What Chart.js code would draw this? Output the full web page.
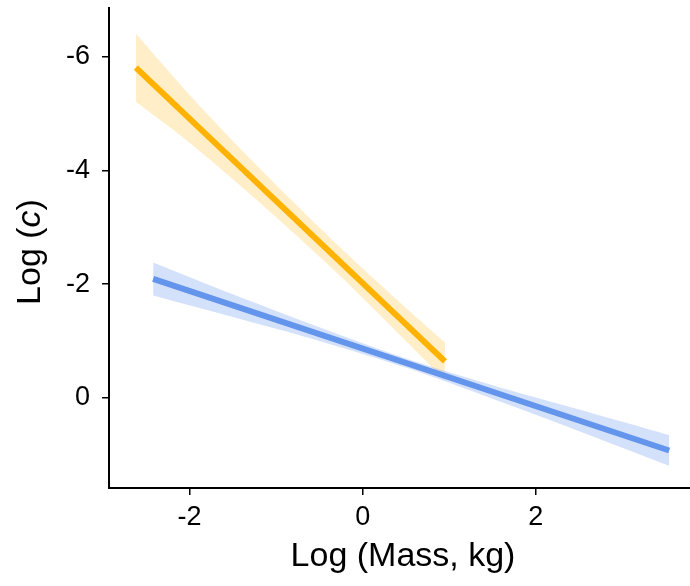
<!DOCTYPE html>
<html>
<head>
<meta charset="utf-8">
<script src="https://cdn.jsdelivr.net/npm/chart.js@4.4.0/dist/chart.umd.min.js"></script>
<style>
  html, body { margin: 0; padding: 0; background: #fff; }
  #wrap { width: 690px; height: 586px; }
</style>
</head>
<body>
<div id="wrap"><canvas id="myChart" width="690" height="586"></canvas></div>
<script>
// values
const xTicks = [-2, 0, 2];
const yTicks = [-6, -4, -2, 0];

// orange fit + band
const orangeLineX = [-2.62, 0.95];
const orangeLineY = [-5.81, -0.64];
const orangeBandX = [-2.62, -2, -1.2, -0.3, 0.5, 0.95];
const orangeBandTop = [-6.41, -5.33, -4.05, -2.70, -1.58, -0.97];
const orangeBandBottom = [-5.21, -4.49, -3.45, -2.20, -1.00, -0.31];

// blue fit + band
const blueLineX = [-2.42, 3.54];
const blueLineY = [-2.09, 0.93];
const blueBandX = [-2.42, -1.5, -0.5, 0.5, 1.5, 2.5, 3.54];
const blueBandTop = [-2.38, -1.82, -1.24, -0.69, -0.22, 0.21, 0.66];
const blueBandBottom = [-1.80, -1.42, -1.00, -0.53, 0.02, 0.59, 1.20];

const orange = 'rgb(255,178,0)';
const orangeFill = 'rgba(255,178,0,0.22)';
const blue = 'rgb(100,149,237)';
const blueFill = 'rgba(100,149,237,0.28)';

function pts(xs, ys) {
  return xs.map((x, i) => ({ x: x, y: ys[i] }));
}

const fontFam = '"Liberation Sans", Arial, sans-serif';

// axis titles drawn by hand so the c can be italic
const titles = {
  id: 'titles',
  afterDraw(chart) {
    const ctx = chart.ctx;
    ctx.save();
    ctx.fillStyle = '#000';
    ctx.textBaseline = 'middle';
    ctx.textAlign = 'center';
    ctx.font = '34px ' + fontFam;
    ctx.fillText('Log (Mass, kg)', 403, 557);

    ctx.translate(31, 252);
    ctx.rotate(-Math.PI / 2);
    const a = 'Log (', b = 'c', c = ')';
    ctx.font = '34px ' + fontFam;
    const wa = ctx.measureText(a).width, wc = ctx.measureText(c).width;
    ctx.font = 'italic 34px ' + fontFam;
    const wb = ctx.measureText(b).width;
    let x = -(wa + wb + wc) / 2;
    ctx.textAlign = 'left';
    ctx.font = '34px ' + fontFam;
    ctx.fillText(a, x, 0); x += wa;
    ctx.font = 'italic 34px ' + fontFam;
    ctx.fillText(b, x, 0); x += wb;
    ctx.font = '34px ' + fontFam;
    ctx.fillText(c, x, 0);
    ctx.restore();
  }
};

const config = {
  type: 'scatter',
  data: {
    datasets: [
      { data: pts(orangeBandX, orangeBandBottom), showLine: true, borderWidth: 0, borderColor: 'rgba(0,0,0,0)', pointRadius: 0, tension: 0.3, order: 4 },
      { data: pts(orangeBandX, orangeBandTop), showLine: true, borderWidth: 0, borderColor: 'rgba(0,0,0,0)', pointRadius: 0, tension: 0.3, fill: '-1', backgroundColor: orangeFill, order: 4 },
      { data: pts(blueBandX, blueBandBottom), showLine: true, borderWidth: 0, borderColor: 'rgba(0,0,0,0)', pointRadius: 0, tension: 0.3, order: 3 },
      { data: pts(blueBandX, blueBandTop), showLine: true, borderWidth: 0, borderColor: 'rgba(0,0,0,0)', pointRadius: 0, tension: 0.3, fill: '-1', backgroundColor: blueFill, order: 3 },
      { data: pts(blueLineX, blueLineY), showLine: true, borderWidth: 6, borderColor: blue, borderCapStyle: 'butt', pointRadius: 0, order: 2 },
      { data: pts(orangeLineX, orangeLineY), showLine: true, borderWidth: 6, borderColor: orange, borderCapStyle: 'butt', pointRadius: 0, order: 1 }
    ]
  },
  options: {
    responsive: false,
    animation: false,
    layout: { padding: { top: 8, left: 0, right: 0, bottom: 0 } },
    plugins: { legend: { display: false }, tooltip: { enabled: false } },
    scales: {
      x: {
        type: 'linear',
        min: -2.93,
        max: 3.78,
        afterBuildTicks: (scale) => { scale.ticks = xTicks.map(v => ({ value: v })); },
        afterFit: (scale) => { scale.height = 98; scale.paddingLeft = 0; scale.paddingRight = 0; },
        grid: { drawOnChartArea: false, drawTicks: true, tickLength: 7, color: '#000', lineWidth: 1.5 },
        border: { color: '#000', width: 2 },
        ticks: { color: '#000', padding: 6, font: { family: fontFam, size: 27 } }
      },
      y: {
        type: 'linear',
        reverse: true,
        min: -6.86,
        max: 1.59,
        afterBuildTicks: (scale) => { scale.ticks = yTicks.map(v => ({ value: v })); },
        afterFit: (scale) => { scale.width = 109; scale.paddingTop = 0; scale.paddingBottom = 0; },
        grid: { drawOnChartArea: false, drawTicks: true, tickLength: 7, color: '#000', lineWidth: 1.5 },
        border: { color: '#000', width: 2 },
        ticks: { color: '#000', padding: 12, font: { family: fontFam, size: 27 } }
      }
    }
  },
  plugins: [titles]
};

const myChart = new Chart(document.getElementById('myChart'), config);
</script>
</body>
</html>
